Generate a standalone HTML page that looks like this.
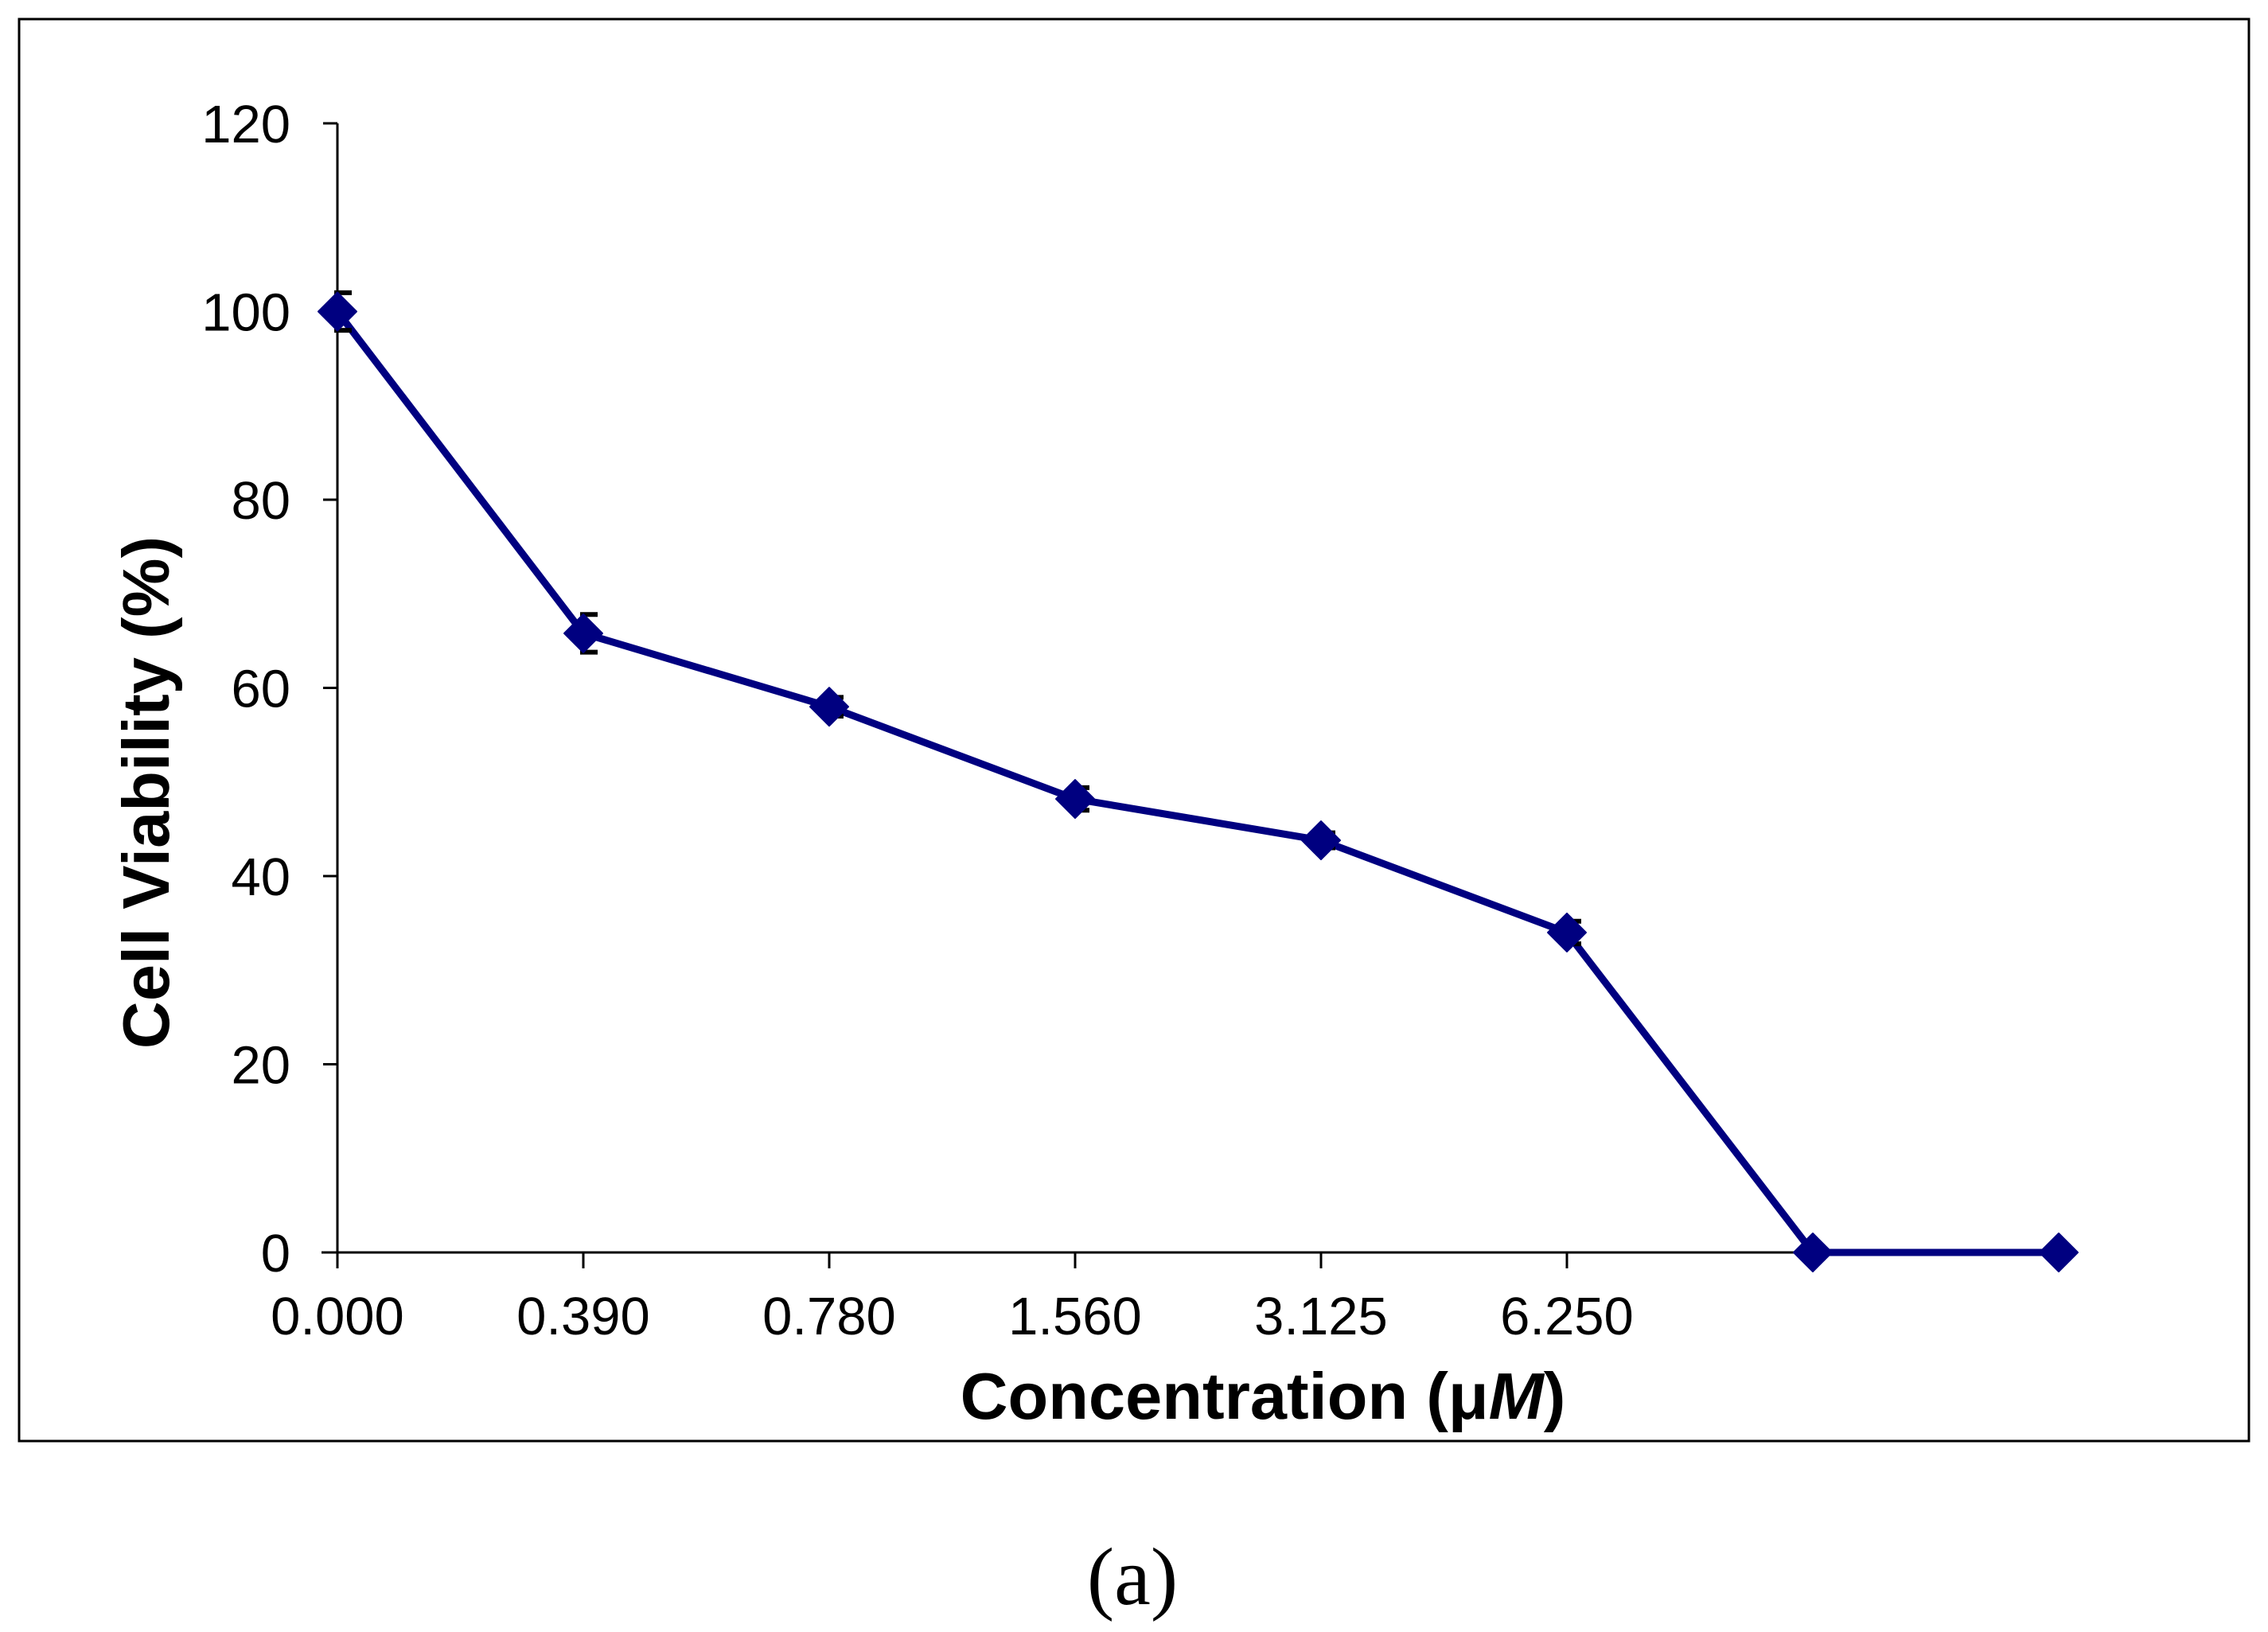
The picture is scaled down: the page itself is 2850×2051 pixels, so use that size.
<!DOCTYPE html>
<html><head><meta charset="utf-8"><style>
html,body{margin:0;padding:0;background:#fff}
svg{display:block}
</style></head><body>
<svg id="chart" width="2850" height="2051" viewBox="0 0 2850 2051" xmlns="http://www.w3.org/2000/svg" font-family="Liberation Sans, Arial, sans-serif">
<rect x="24" y="24" width="2802" height="1787" fill="none" stroke="#000" stroke-width="3"/>
<g id="axes"></g>
<g id="marks"></g>
<text x="1587" y="1783" font-size="83" font-weight="bold" text-anchor="middle">Concentration (μ<tspan font-style="italic">M</tspan>)</text>
<text transform="translate(212,996) rotate(-90)" font-size="83" font-weight="bold" text-anchor="middle">Cell Viability (%)</text>
<text x="1423" y="2016" font-size="103" font-family="Liberation Serif, serif" text-anchor="middle">(a)</text>
</svg>
<script>
const categories = ["0.000","0.390","0.780","1.560","3.125","6.250","",""];
const viability = [100, 65.8, 58, 48.2, 43.8, 34, 0, 0];
const errors = [2, 2, 1, 1.2, 0.8, 1.2, 0, 0];
const yTicks = [0, 20, 40, 60, 80, 100, 120];

const NS = "http://www.w3.org/2000/svg";
const x0 = 424, dx = 309, y0 = 1574, yTop = 155, yMax = 120;
const xs = i => x0 + i * dx;
const ys = v => y0 - (v / yMax) * (y0 - yTop);
function mk(tag, attrs, parent){const e=document.createElementNS(NS,tag);for(const k in attrs)e.setAttribute(k,attrs[k]);parent.appendChild(e);return e;}
const axes = document.getElementById('axes'), marks = document.getElementById('marks');

const ya = mk('line',{x1:x0,y1:ys(yMax),x2:x0,y2:y0,stroke:'#000','stroke-width':3},axes);


const xa = mk('line',{x1:x0-20,y1:y0,x2:xs(categories.length-1)+20,y2:y0,stroke:'#000','stroke-width':3},axes);



yTicks.forEach(v=>{
  const t = mk('line',{x1:x0-18,y1:ys(v),x2:x0,y2:ys(v),stroke:'#000','stroke-width':3},axes);
  
  
  const l = mk('text',{x:365,y:ys(v)+24,'font-size':67,'text-anchor':'end'},axes);
  l.textContent = v;
  
  
});
categories.forEach((c,i)=>{
  if(i<6){
    const t = mk('line',{x1:xs(i),y1:y0,x2:xs(i),y2:y0+20,stroke:'#000','stroke-width':3},axes);
    
    
  }
  if(c){
    const l = mk('text',{x:xs(i),y:1677,'font-size':67,'text-anchor':'middle'},axes);
    l.textContent = c;
    
    
  }
});

const pts = viability.map((v,i)=>xs(i)+','+ys(v)).join(' ');
const line = mk('polyline',{points:pts,fill:'none',stroke:'#000080','stroke-width':9,'stroke-linejoin':'round'},marks);



viability.forEach((v,i)=>{
  const e = errors[i];
  if(e>0){
    const g = mk('path',{d:`M${xs(i)} ${ys(v+e)}V${ys(v-e)}M${xs(i)-4} ${ys(v+e)}H${xs(i)+18}M${xs(i)-4} ${ys(v-e)}H${xs(i)+18}`,stroke:'#000','stroke-width':6,fill:'none'},marks);
    
    
  }
  const x=xs(i), y=ys(v), r=24;
  const d = mk('polygon',{points:`${x},${y-r} ${x+r},${y} ${x},${y+r} ${x-r},${y}`,fill:'#000080',stroke:'#000080','stroke-width':2,'stroke-linejoin':'round'},marks);
  
  
});
</script>
</body></html>
